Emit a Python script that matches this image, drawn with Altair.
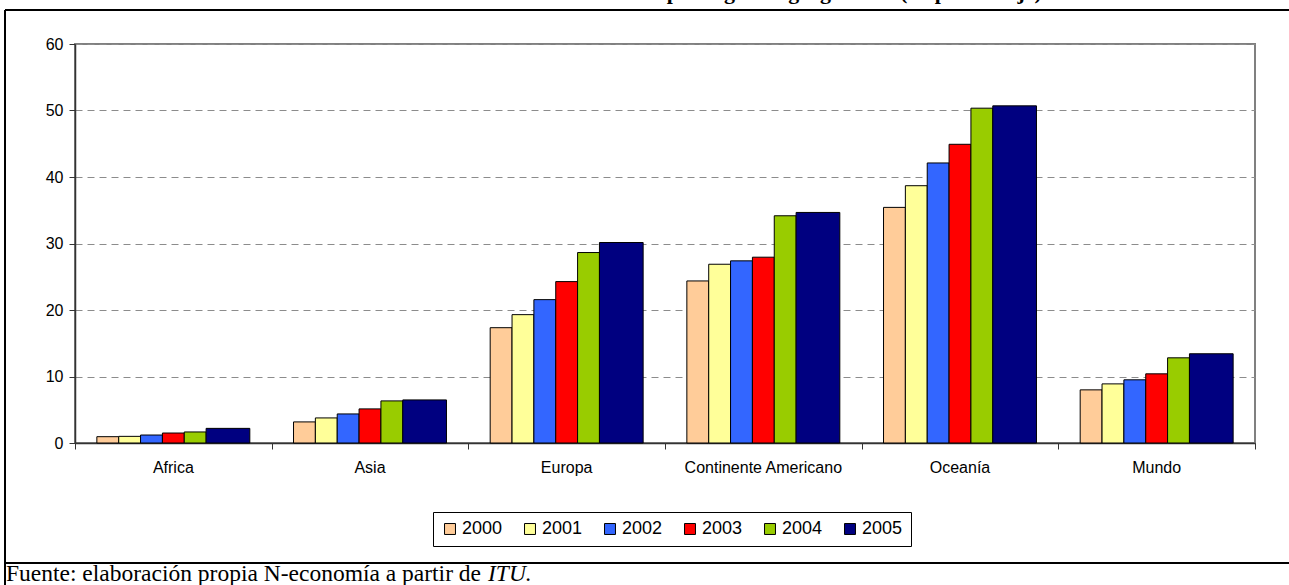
import altair as alt
import pandas as pd

# Internet users by region, 2000-2005 (percent)
regions = ["Africa", "Asia", "Europa", "Continente Americano", "Oceanía", "Mundo"]
years = ["2000", "2001", "2002", "2003", "2004", "2005"]
africa = [0.95, 1.0, 1.2, 1.5, 1.66, 2.2]
asia = [3.17, 3.77, 4.37, 5.13, 6.33, 6.48]
europa = [17.34, 19.3, 21.56, 24.27, 28.64, 30.15]
america = [24.37, 26.88, 27.39, 27.94, 34.17, 34.67]
oceania = [35.43, 38.69, 42.11, 44.92, 50.35, 50.70]
mundo = [7.99, 8.89, 9.5, 10.4, 12.81, 13.42]
y_ticks = [0, 10, 20, 30, 40, 50, 60]

year_colors = ["#FFCC99", "#FFFF99", "#3366FF", "#FF0000", "#99CC00", "#000080"]

# Each region occupies a group of slots; the last series spans two slots
SLOTS = 9
LEAD = 1
SLOT_SPAN = [1, 1, 1, 1, 1, 2]

W, H = 1180, 399
PAD = {"left": 75, "top": 44, "right": 34, "bottom": 142}

series = [africa, asia, europa, america, oceania, mundo]
rows = []
for ri, (region, vals) in enumerate(zip(regions, series)):
    start = ri * SLOTS + LEAD
    for yi, (yr, v) in enumerate(zip(years, vals)):
        x0 = start + sum(SLOT_SPAN[:yi])
        rows.append({"region": region, "year": yr, "value": v,
                     "x0": x0, "x1": x0 + SLOT_SPAN[yi]})
df = pd.DataFrame(rows)

lab_df = pd.DataFrame({"region": regions,
                       "center": [i * SLOTS + SLOTS / 2 for i in range(len(regions))]})

FONT = "Liberation Sans"
SERIF = "Liberation Serif"

x_scale = alt.Scale(domain=[0, SLOTS * len(regions)], nice=False, zero=False)
x_axis = alt.Axis(values=list(range(0, SLOTS * len(regions) + 1, SLOTS)), labels=False,
                  title=None, grid=False, ticks=True, tickSize=6, tickColor="#333333",
                  domainColor="#333333", domainWidth=1.5, tickWidth=1)
y_scale = alt.Scale(domain=[0, 60], nice=False)

bars = alt.Chart(df).mark_bar(stroke="black", strokeWidth=1).encode(
    x=alt.X("x0:Q", scale=x_scale, axis=x_axis),
    x2="x1:Q",
    y=alt.Y("value:Q", scale=y_scale,
            axis=alt.Axis(values=y_ticks, title=None, grid=True, gridDash=[7, 5],
                          gridColor="#8c8c8c", gridWidth=1, tickSize=6,
                          tickColor="#333333", domainColor="#333333", domainWidth=1.5,
                          labelFont=FONT, labelFontSize=16, labelColor="black",
                          labelPadding=6)),
    y2=alt.datum(0),
    color=alt.Color("year:N", scale=alt.Scale(domain=years, range=year_colors),
                    legend=alt.Legend(orient="none", legendX=358, legendY=468,
                                      direction="horizontal", title=None,
                                      strokeColor="black", fillColor="white",
                                      padding=8, symbolType="square", symbolSize=120,
                                      symbolStrokeColor="black", symbolStrokeWidth=1,
                                      symbolOpacity=1,
                                      labelFont=FONT, labelFontSize=18,
                                      labelColor="black", labelOffset=3,
                                      columnPadding=18)),
)

cat_labels = alt.Chart(lab_df).mark_text(font=FONT, fontSize=16, color="black",
                                         baseline="middle").encode(
    x=alt.X("center:Q", scale=x_scale, axis=x_axis),
    y=alt.value(H + 25),
    text="region:N",
)

# Outer frame and footer rule
frame_top = alt.Chart(lab_df).mark_rule(color="black", strokeWidth=2).encode(
    x=alt.value(-70), x2=alt.value(W + 40), y=alt.value(-34))
frame_left = alt.Chart(lab_df).mark_rule(color="black", strokeWidth=2).encode(
    x=alt.value(-70), y=alt.value(-34), y2=alt.value(H + 142))
frame_bottom = alt.Chart(lab_df).mark_rule(color="black", strokeWidth=2).encode(
    x=alt.value(-70), x2=alt.value(W + 40), y=alt.value(H + 120))

footer = alt.Chart(pd.DataFrame({"t": ["Fuente: elaboración propia N-economía a partir de"]})).mark_text(
    font=SERIF, fontSize=23.5, color="black", align="left", baseline="alphabetic").encode(
    x=alt.value(-69), y=alt.value(H + 138), text="t:N")
footer_it = alt.Chart(pd.DataFrame({"t": ["ITU."]})).mark_text(
    font=SERIF, fontSize=23.5, fontStyle="italic", color="black", align="left",
    baseline="alphabetic").encode(
    x=alt.value(413), y=alt.value(H + 138), text="t:N")

title = alt.Chart(pd.DataFrame({"t": ["Usuarios de Internet por regiones geográficas (en porcentaje)"]})).mark_text(
    font=SERIF, fontSize=22, fontWeight="bold", color="black", align="center",
    baseline="alphabetic").encode(
    x=alt.value(680), y=alt.value(-45), text="t:N")

chart = alt.layer(bars, cat_labels, frame_top, frame_left, frame_bottom,
                  footer, footer_it, title).properties(
    width=W, height=H, padding=PAD, autosize="none", background="white"
).configure_view(stroke="#808080", strokeWidth=2)

chart.save("out.html", embed_options={"renderer": "svg", "actions": False})
